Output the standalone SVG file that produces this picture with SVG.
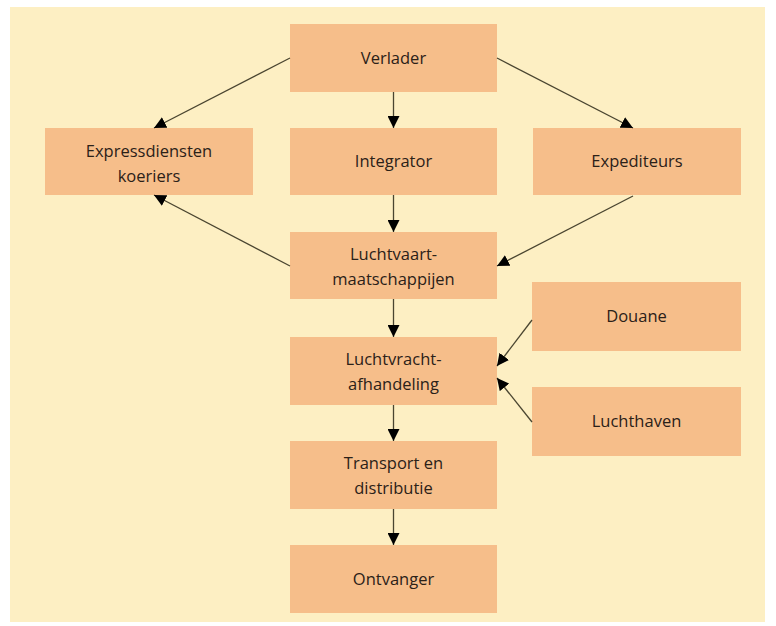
<svg xmlns="http://www.w3.org/2000/svg" width="776" height="626" viewBox="0 0 776 626">
<style>
.box{fill:#F6BE8A}
.t{font-family:"Open Sans","Noto Sans","Liberation Sans",sans-serif;font-size:16.5px;fill:#2b2118;text-anchor:middle}
.c{stroke:#4a4530;stroke-width:1.3;fill:none;marker-end:url(#ah)}
</style>
<defs>
<marker id="ah" viewBox="0 0 12 12" refX="12" refY="6" markerWidth="12" markerHeight="12" markerUnits="userSpaceOnUse" orient="auto">
<path d="M0,0 L12,6 L0,12 Z" fill="#000"/>
</marker>
</defs>
<rect x="0" y="0" width="776" height="626" fill="#fff"/>
<rect x="10" y="7" width="755" height="615" fill="#FDEFC3"/>
<g id="verlader"><rect class="box" x="290" y="24" width="207" height="68"/><text class="t" x="393.5" y="64">Verlader</text></g>
<g id="express"><rect class="box" x="45" y="128" width="208" height="67"/><text class="t" x="149" y="157">Expressdiensten</text><text class="t" x="149" y="182">koeriers</text></g>
<g id="integrator"><rect class="box" x="290" y="128" width="207" height="67"/><text class="t" x="393.5" y="167">Integrator</text></g>
<g id="expediteurs"><rect class="box" x="533" y="128" width="208" height="67"/><text class="t" x="637" y="167">Expediteurs</text></g>
<g id="luchtvaart"><rect class="box" x="290" y="232" width="207" height="67"/><text class="t" x="393.5" y="260">Luchtvaart-</text><text class="t" x="393.5" y="285">maatschappijen</text></g>
<g id="luchtvracht"><rect class="box" x="290" y="337" width="207" height="68"/><text class="t" x="393.5" y="365">Luchtvracht-</text><text class="t" x="393.5" y="390">afhandeling</text></g>
<g id="douane"><rect class="box" x="532" y="282" width="209" height="69"/><text class="t" x="636.5" y="322">Douane</text></g>
<g id="luchthaven"><rect class="box" x="532" y="387" width="209" height="69"/><text class="t" x="636.5" y="427">Luchthaven</text></g>
<g id="transport"><rect class="box" x="290" y="441" width="207" height="68"/><text class="t" x="393.5" y="469">Transport en</text><text class="t" x="393.5" y="494">distributie</text></g>
<g id="ontvanger"><rect class="box" x="290" y="545" width="207" height="68"/><text class="t" x="393.5" y="585">Ontvanger</text></g>
<g id="connectors">
<line class="c" x1="290" y1="58" x2="154" y2="128"/>
<line class="c" x1="393.5" y1="92" x2="393.5" y2="128"/>
<line class="c" x1="497" y1="58" x2="633" y2="128"/>
<line class="c" x1="393.5" y1="195" x2="393.5" y2="232"/>
<line class="c" x1="633" y1="196" x2="497" y2="266"/>
<line class="c" x1="290" y1="266" x2="154" y2="195"/>
<line class="c" x1="393.5" y1="299" x2="393.5" y2="337"/>
<line class="c" x1="532" y1="320" x2="497" y2="366"/>
<line class="c" x1="532" y1="422" x2="497" y2="378"/>
<line class="c" x1="393.5" y1="405" x2="393.5" y2="441"/>
<line class="c" x1="393.5" y1="509" x2="393.5" y2="545"/>
</g>
</svg>
